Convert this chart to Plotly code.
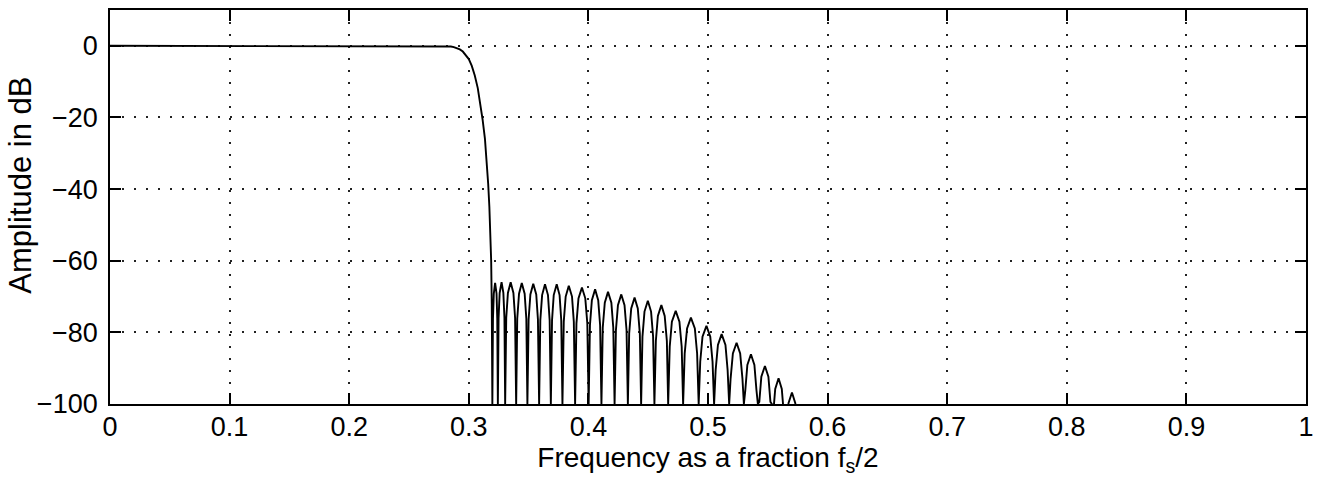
import plotly.graph_objects as go

# ---- data ----
# Passband and transition (frequency as fraction of fs/2, amplitude in dB)
passband_freq = [0.0, 0.27, 0.28, 0.285, 0.2875, 0.29, 0.2925, 0.295, 0.2975, 0.30, 0.3025,
                 0.305, 0.3075, 0.31, 0.3115, 0.3135, 0.315, 0.3162, 0.3172, 0.318, 0.3187,
                 0.3192, 0.3195, 0.3197]
passband_db = [0.0, 0.0, -0.05, -0.2, -0.35, -0.6, -1.0, -1.6, -2.5, -3.7, -5.6,
               -8.3, -11.8, -17.0, -20.5, -26.0, -32.0, -38.5, -45.0, -51.0, -60.0,
               -72.0, -85.0, -100.0]

# Stopband sidelobes (points traced along each lobe, nulls at the axis bottom)
stopband_freq = [
    0.3202, 0.3209, 0.3220, 0.3232, 0.3238, 0.3243,
    0.3249, 0.3258, 0.3274, 0.3289, 0.3298, 0.3304,
    0.3313, 0.3327, 0.3350, 0.3373, 0.3387, 0.3396,
    0.3405, 0.3420, 0.3443, 0.3467, 0.3481, 0.3490,
    0.3500, 0.3515, 0.3539, 0.3564, 0.3578, 0.3588,
    0.3598, 0.3613, 0.3637, 0.3662, 0.3676, 0.3686,
    0.3696, 0.3710, 0.3735, 0.3759, 0.3773, 0.3783,
    0.3794, 0.3810, 0.3836, 0.3863, 0.3878, 0.3889,
    0.3900, 0.3917, 0.3946, 0.3974, 0.3991, 0.4002,
    0.4013, 0.4029, 0.4056, 0.4082, 0.4098, 0.4109,
    0.4120, 0.4137, 0.4164, 0.4192, 0.4208, 0.4219,
    0.4230, 0.4247, 0.4275, 0.4302, 0.4319, 0.4330,
    0.4341, 0.4358, 0.4386, 0.4413, 0.4430, 0.4441,
    0.4452, 0.4469, 0.4497, 0.4524, 0.4541, 0.4552,
    0.4564, 0.4581, 0.4610, 0.4638, 0.4656, 0.4667,
    0.4680, 0.4698, 0.4730, 0.4761, 0.4780, 0.4792,
    0.4805, 0.4825, 0.4857, 0.4890, 0.4909, 0.4922,
    0.4935, 0.4954, 0.4987, 0.5019, 0.5038, 0.5051,
    0.5064, 0.5083, 0.5114, 0.5146, 0.5164, 0.5177,
    0.5189, 0.5208, 0.5239, 0.5269, 0.5288, 0.5300,
    0.5312, 0.5329, 0.5359, 0.5388, 0.5405, 0.5417,
    0.5429, 0.5446, 0.5476, 0.5505, 0.5522, 0.5534,
    0.5545, 0.5562, 0.5590, 0.5617, 0.5634, 0.5645,
    0.5656, 0.5673, 0.5702, 0.5730, 0.5747, 0.5758,
]
stopband_db = [
    -76.2, -69.2, -66.2, -69.2, -76.2, -100,
    -76.0, -69.0, -66.0, -69.0, -76.0, -100,
    -76.0, -69.0, -66.0, -69.0, -76.0, -100,
    -76.2, -69.2, -66.2, -69.2, -76.2, -100,
    -76.4, -69.4, -66.4, -69.4, -76.4, -100,
    -76.6, -69.6, -66.6, -69.6, -76.6, -100,
    -76.6, -69.6, -66.6, -69.6, -76.6, -100,
    -77.0, -70.0, -67.0, -70.0, -77.0, -100,
    -77.5, -70.5, -67.5, -70.5, -77.5, -100,
    -78.0, -71.0, -68.0, -71.0, -78.0, -100,
    -78.7, -71.7, -68.7, -71.7, -78.7, -100,
    -79.4, -72.4, -69.4, -72.4, -79.4, -100,
    -80.3, -73.3, -70.3, -73.3, -80.3, -100,
    -81.2, -74.2, -71.2, -74.2, -81.2, -100,
    -82.4, -75.4, -72.4, -75.4, -82.4, -100,
    -84.0, -77.0, -74.0, -77.0, -84.0, -100,
    -85.9, -78.9, -75.9, -78.9, -85.9, -100,
    -88.2, -81.2, -78.2, -81.2, -88.2, -100,
    -90.5, -83.5, -80.5, -83.5, -90.5, -100,
    -92.9, -85.9, -82.9, -85.9, -92.9, -100,
    -96.1, -89.1, -86.1, -89.1, -96.1, -100,
    -99.4, -92.4, -89.4, -92.4, -99.4, -100,
    -102.8, -95.8, -92.8, -95.8, -102.8, -105,
    -106.8, -99.8, -96.8, -99.8, -106.8, -110,
]

x_ticks = [0, 0.1, 0.2, 0.3, 0.4, 0.5, 0.6, 0.7, 0.8, 0.9, 1.0]
x_tick_labels = ["0", "0.1", "0.2", "0.3", "0.4", "0.5", "0.6", "0.7", "0.8", "0.9", "1"]
y_ticks = [-100, -80, -60, -40, -20, 0]
y_tick_labels = ["\u2212100", "\u221280", "\u221260", "\u221240", "\u221220", "0"]

x_title = "Frequency as a fraction f<sub>s</sub>/2"
y_title = "Amplitude in dB"

freq = passband_freq + stopband_freq
amp = passband_db + stopband_db

FONT = "Liberation Sans"

fig = go.Figure()
fig.add_trace(go.Scatter(x=freq, y=amp, mode="lines",
                         line=dict(color="black", width=1.9),
                         hoverinfo="skip", showlegend=False))

axis_common = dict(
    showline=True, linecolor="black", linewidth=1.8, mirror="ticks",
    ticks="inside", ticklen=11, tickwidth=1.5, tickcolor="black",
    showgrid=True, gridcolor="#222222", gridwidth=1.5, griddash="1.5px,10.5px",
    zeroline=False,
    tickfont=dict(family=FONT, size=27, color="black"),
)

fig.update_xaxes(range=[0, 1], tickvals=x_ticks, ticktext=x_tick_labels,
                 title=dict(text=x_title,
                            font=dict(family=FONT, size=28, color="black"),
                            standoff=0),
                 ticklabelstandoff=-2,
                 **axis_common)
fig.update_yaxes(range=[-100, 10], tickvals=y_ticks, ticktext=y_tick_labels,
                 ticklabelstandoff=5,
                 **axis_common)

# y-axis title placed as a rotated text (sits slightly above the axis centre in the reference)
fig.add_annotation(text=y_title, textangle=-90,
                   xref="paper", yref="paper", x=-0.075, y=0.555,
                   xanchor="center", yanchor="middle", showarrow=False,
                   font=dict(family=FONT, size=31, color="black"))

fig.update_layout(
    width=1328, height=479,
    margin=dict(l=110, r=22, t=10, b=75, autoexpand=False),
    paper_bgcolor="white", plot_bgcolor="white",
    font=dict(family=FONT, size=27, color="black"),
    showlegend=False,
)

fig.write_html("out.html")
